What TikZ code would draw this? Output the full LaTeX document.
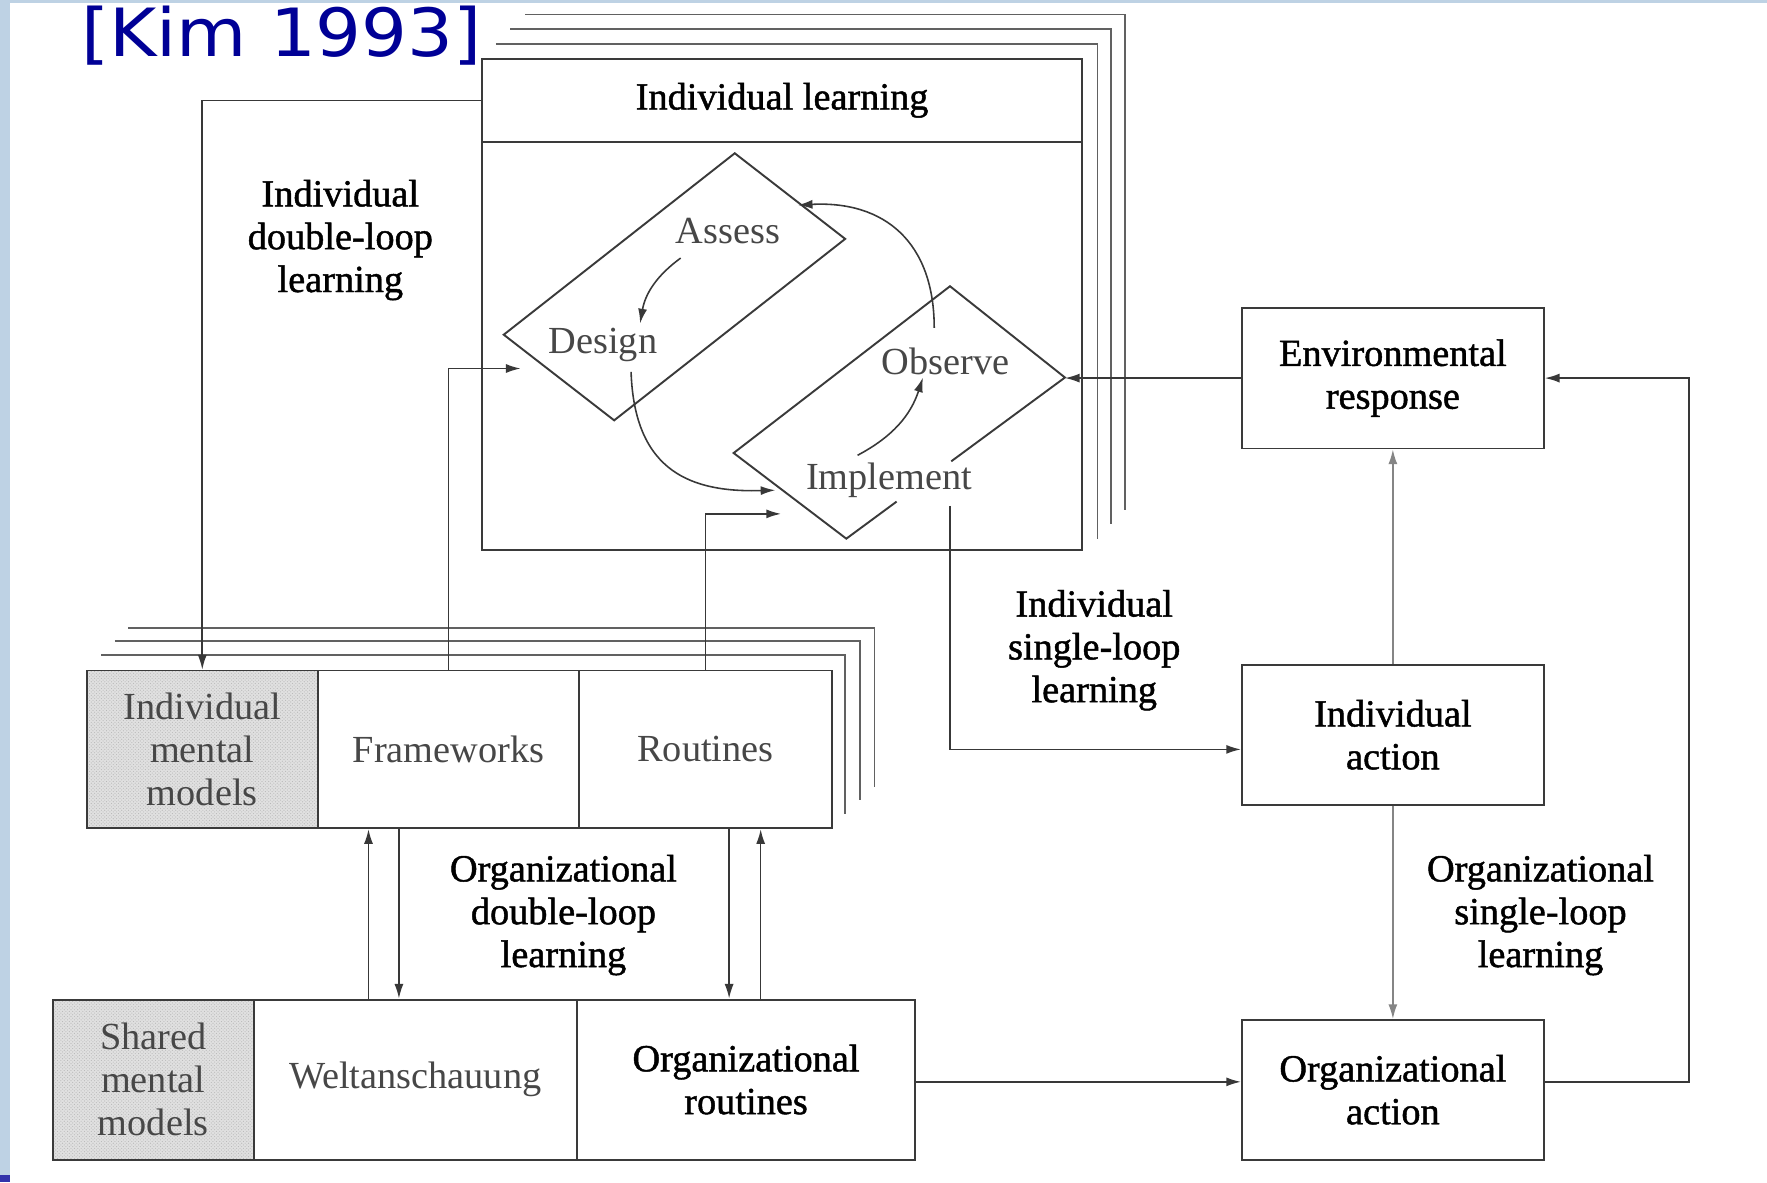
\documentclass[tikz,border=0pt]{standalone}
\usepackage{fontspec}
\setmainfont{Liberation Serif}
\newfontfamily\heavyserif{Liberation Serif}[FakeBold=1.2]
\newfontfamily\titlefont{DejaVu Sans}[FakeStretch=1.085]
\usetikzlibrary{arrows.meta,calc,patterns}
\definecolor{titleblue}{RGB}{0,0,150}
\definecolor{stripblue}{RGB}{190,210,228}
\definecolor{inkgray}{RGB}{58,58,58}
\begin{document}
\begin{tikzpicture}[x=1pt,y=-1pt,
  every node/.style={font=\fontsize{34}{38}\selectfont, inner sep=0pt},
  frame/.style={draw=inkgray, line width=1.7pt, line join=miter},
  cell/.style={draw=inkgray, line width=1.7pt, rectangle, align=center},
  ghost/.style={draw=black!62, line width=1.5pt},
  link/.style={draw=black!78, line width=1.4pt},
  arr/.style={link, -{Latex[length=13pt,width=8pt]}},
  softarr/.style={draw=black!48, line width=1.4pt, -{Latex[length=13pt,width=8pt]}},
  lbl/.style={align=center, text=black, font=\heavyserif\fontsize{34}{38}\selectfont},
  soft/.style={align=center, text=black!72},
  shaded/.style={preaction={fill=black!12}, pattern=crosshatch dots, pattern color=black!28}
]
\useasboundingbox (0,0) rectangle (1568,1049);
\fill[white] (0,0) rectangle (1568,1049);
\fill[stripblue] (0,0) rectangle (9,1049);
\fill[stripblue] (0,0) rectangle (1568,3);
\fill[titleblue!80] (0,1043) rectangle (9,1049);

% title
\node[anchor=base west, font=\titlefont\fontsize{59}{61}\selectfont, text=titleblue] (kim) at (72,50) {[Kim 1993]};

% stacked frames behind the individual learning panel
\draw[ghost] (466,13) -- (998,13) -- (998,453);
\draw[ghost] (453,26) -- (986,26) -- (986,465);
\draw[ghost] (440,39) -- (974,39) -- (974,478);

% individual learning panel
\node[cell, minimum width=532pt, minimum height=436pt] (ilbox) at (694,270) {};
\draw[frame] (ilbox.west |- 0,126) -- (ilbox.east |- 0,126);
\node[lbl] (ilhead) at (694,89) {Individual learning};

% assess / design block
\coordinate (A1) at (652,136);
\coordinate (A2) at (750,212);
\coordinate (A3) at (545,373);
\coordinate (A4) at (447,297);
\draw[frame] (A1) -- (A2) -- (A3) -- (A4) -- cycle;

% observe / implement block (edge broken beside the implement label)
\coordinate (O1) at (843,254);
\coordinate (O2) at (945,335);
\coordinate (O3) at (751,478);
\coordinate (O4) at (651,402);
\coordinate (gapA) at ($(O2)!0.52!(O3)$);
\coordinate (gapB) at ($(O2)!0.77!(O3)$);
\draw[frame] (gapA) -- (O2) -- (O1) -- (O4) -- (O3) -- (gapB);

\node[soft] (assess) at (646,205) {Assess};
\node[soft] (design) at (535,306) {Design};
\node[soft] (observe) at (839,321) {Observe};
\node[soft] (implement) at (789,426) {Implement};

% cycle inside the panel
\draw[arr] (604,229) to[bend right=22] (568,287);
\draw[arr] (560,330) .. controls (563,420) and (615,437) .. (688,435);
\draw[arr] (761,404) to[bend right=22] (819,335);
\draw[arr] (829,291) .. controls (829,215) and (785,178) .. (708,182);

% stacked frames behind the individual mental models row
\draw[ghost] (114,557) -- (776,557) -- (776,698);
\draw[ghost] (102,569) -- (763,569) -- (763,710);
\draw[ghost] (90,581) -- (750,581) -- (750,722);

% individual mental models row
\node[cell, shaded, minimum width=205pt, minimum height=140pt] (imm) at (179.5,665) {};
\node[soft] (immt) at (179.5,665) {Individual\\mental\\models};
\node[cell, minimum width=232pt, minimum height=140pt, text=black!72] (fw) at (398,665) {Frameworks};
\node[cell, minimum width=224pt, minimum height=140pt, text=black!72] (rt) at (626,665) {Routines};

% shared mental models row
\node[cell, shaded, minimum width=178pt, minimum height=142pt] (smm) at (136,958) {};
\node[soft] (smmt) at (136,958) {Shared\\mental\\models};
\node[cell, minimum width=287pt, minimum height=142pt, text=black!72] (welt) at (368.5,958) {Weltanschauung};
\node[cell, lbl, minimum width=300pt, minimum height=142pt] (orgr) at (662,958) {Organizational\\routines};

% action boxes
\node[cell, lbl, minimum width=268pt, minimum height=125pt] (env) at (1236,335.5) {Environmental\\response};
\node[cell, lbl, minimum width=268pt, minimum height=124pt] (iact) at (1236,652) {Individual\\action};
\node[cell, lbl, minimum width=268pt, minimum height=124pt] (oact) at (1236,967) {Organizational\\action};

% loop labels
\node[lbl] (idl) at (302,213) {Individual\\double-loop\\learning};
\node[lbl] (isl) at (971,577) {Individual\\single-loop\\learning};
\node[lbl] (odl) at (500,812) {Organizational\\double-loop\\learning};
\node[lbl] (osl) at (1367,812) {Organizational\\single-loop\\learning};

% connector end points
\coordinate (dsgIn) at (462,327);
\coordinate (impIn) at (693,456);
\coordinate (impOut) at (843,449);
\coordinate (iactIn) at ($(iact.west)+(0,13)$);
\coordinate (oactIn) at ($(oact.west)+(0,-7)$);
\coordinate (oactOut) at ($(oact.east)+(0,-7)$);
\coordinate (xa) at (327,0);
\coordinate (xb) at (354,0);
\coordinate (xc) at (647,0);
\coordinate (xd) at (675,0);

% connectors
\draw[arr] (ilbox.west |- ilhead) -| (imm.north);
\draw[arr] (fw.north) |- (dsgIn);
\draw[arr] (rt.north) |- (impIn);
\draw[arr] (impOut) |- (iactIn);
\draw[arr] (env.west) -- (env.west -| O2);
\draw[softarr] (iact.north) -- (env.south);
\draw[softarr] (iact.south) -- (oact.north);
\draw[arr] (oactOut) -- ++(128,0) |- (env.east);
\draw[arr] (orgr.east |- oactIn) -- (oactIn);
\draw[arr] (welt.north -| xa) -- (fw.south -| xa);
\draw[arr] (fw.south -| xb) -- (welt.north -| xb);
\draw[arr] (rt.south -| xc) -- (orgr.north -| xc);
\draw[arr] (orgr.north -| xd) -- (rt.south -| xd);
\end{tikzpicture}
\end{document}
